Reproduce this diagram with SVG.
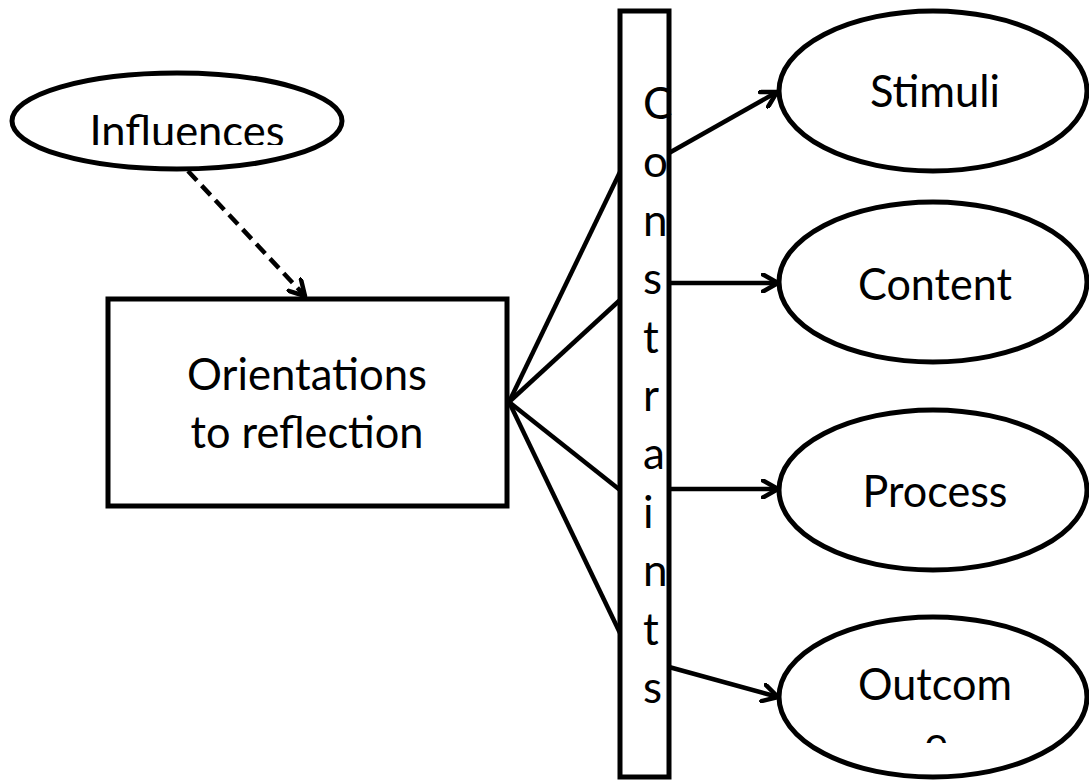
<svg xmlns="http://www.w3.org/2000/svg" width="1089" height="780" viewBox="0 0 1089 780">
  <style>
    .shape { fill: #ffffff; stroke: #000000; stroke-width: 5; }
    .link { fill: none; stroke: #000000; stroke-width: 4.5; }
    .dashed { stroke-dasharray: 13 7; }
    .label { font-family: Lato, "Open Sans", "Liberation Sans", sans-serif; font-size: 44px; fill: #000000; }
    .mid { text-anchor: middle; }
  </style>
  <defs>
    <marker id="arrow" viewBox="0 0 20 20" refX="17" refY="10" markerWidth="20" markerHeight="20" markerUnits="userSpaceOnUse" orient="auto">
      <path d="M2,1.5 L17,10 L2,18.5" fill="none" stroke="#000000" stroke-width="4.5" stroke-linecap="round" stroke-linejoin="round"/>
    </marker>
    <clipPath id="clip-influences">
      <rect x="0" y="60" width="360" height="85"/>
    </clipPath>
    <clipPath id="clip-outcome">
      <rect x="780" y="600" width="309" height="143"/>
    </clipPath>
  </defs>

  <rect width="1089" height="780" fill="#ffffff"/>

  <!-- connectors -->
  <g id="connectors">
    <line class="link dashed" x1="188" y1="171" x2="305" y2="296" marker-end="url(#arrow)"/>
    <line class="link" x1="509" y1="402" x2="620" y2="172"/>
    <line class="link" x1="509" y1="402" x2="620" y2="300"/>
    <line class="link" x1="509" y1="402" x2="620" y2="490"/>
    <line class="link" x1="509" y1="402" x2="620" y2="633"/>
    <line class="link" x1="669" y1="153" x2="777" y2="92" marker-end="url(#arrow)"/>
    <line class="link" x1="669" y1="283" x2="778" y2="283" marker-end="url(#arrow)"/>
    <line class="link" x1="669" y1="489" x2="778" y2="489" marker-end="url(#arrow)"/>
    <line class="link" x1="669" y1="667" x2="778" y2="697" marker-end="url(#arrow)"/>
  </g>

  <g id="influences">
    <ellipse class="shape" cx="177" cy="121" rx="165" ry="48"/>
    <text class="label mid" x="187" y="147" textLength="195" lengthAdjust="spacingAndGlyphs" clip-path="url(#clip-influences)">Influences</text>
  </g>

  <g id="orientations">
    <rect class="shape" x="108" y="299" width="399" height="207"/>
    <text class="label mid" x="307" y="390" textLength="240" lengthAdjust="spacingAndGlyphs">Orientations</text>
    <text class="label mid" x="307" y="448" textLength="233" lengthAdjust="spacingAndGlyphs">to reflection</text>
  </g>

  <g id="constraints">
    <rect class="shape" x="620" y="11" width="49" height="766"/>
    <text class="label" x="643" y="119">C<tspan x="643" dy="58.4">o</tspan><tspan x="643" dy="58.4">n</tspan><tspan x="643" dy="58.4">s</tspan><tspan x="643" dy="58.4">t</tspan><tspan x="643" dy="58.4">r</tspan><tspan x="643" dy="58.4">a</tspan><tspan x="643" dy="58.4">i</tspan><tspan x="643" dy="58.4">n</tspan><tspan x="643" dy="58.4">t</tspan><tspan x="643" dy="58.4">s</tspan></text>
  </g>

  <g id="stimuli">
    <ellipse class="shape" cx="933" cy="91" rx="154" ry="80"/>
    <text class="label mid" x="935" y="107" textLength="130" lengthAdjust="spacingAndGlyphs">Stimuli</text>
  </g>

  <g id="content">
    <ellipse class="shape" cx="933" cy="282" rx="154" ry="80"/>
    <text class="label mid" x="935" y="300" textLength="154" lengthAdjust="spacingAndGlyphs">Content</text>
  </g>

  <g id="process">
    <ellipse class="shape" cx="933" cy="490" rx="154" ry="80"/>
    <text class="label mid" x="935" y="507" textLength="145" lengthAdjust="spacingAndGlyphs">Process</text>
  </g>

  <g id="outcome">
    <ellipse class="shape" cx="933" cy="697" rx="154" ry="80"/>
    <g clip-path="url(#clip-outcome)">
      <text class="label mid" x="935" y="700" textLength="154" lengthAdjust="spacingAndGlyphs">Outcom</text>
      <text class="label mid" x="936" y="758">e</text>
    </g>
  </g>
</svg>
